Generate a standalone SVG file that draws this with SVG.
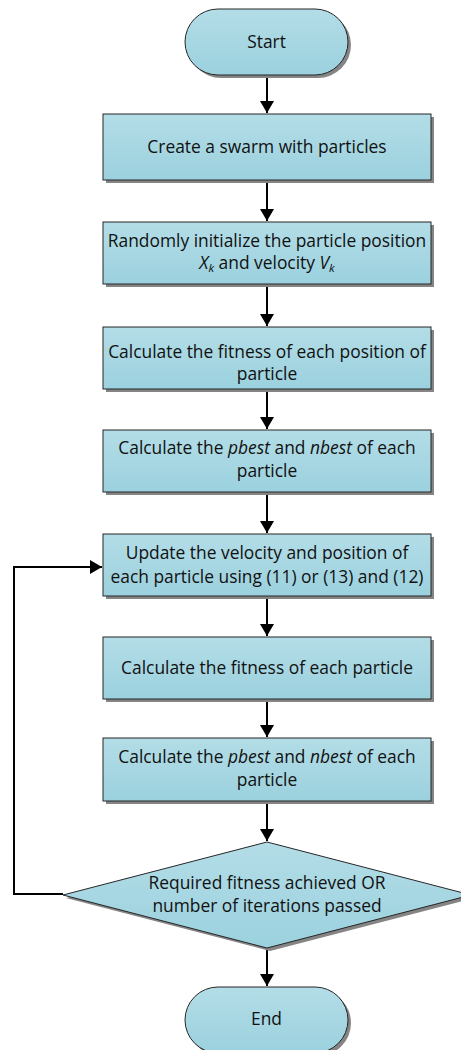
<svg xmlns="http://www.w3.org/2000/svg" width="461" height="1050" viewBox="0 0 461 1050">
  <style>
    .shape { fill: url(#fillGrad); stroke: #262626; stroke-width: 1; }
    .shadow { fill: #858585; }
    .label { font-family: "Open Sans", "Noto Sans", "Liberation Sans", sans-serif; font-size: 17.4px; fill: #111; text-anchor: middle; }
    .sub { font-size: 11.5px; font-style: italic; }
    .edge { fill: none; stroke: #000; stroke-width: 2; }
  </style>
  <defs>
    <linearGradient id="fillGrad" x1="0" y1="0" x2="0" y2="1">
      <stop offset="0" stop-color="#b3dde7"/>
      <stop offset="1" stop-color="#9bd1de"/>
    </linearGradient>
    <marker id="arrow" viewBox="0 0 12 14" refX="12" refY="7" markerWidth="12" markerHeight="14" markerUnits="userSpaceOnUse" orient="auto">
      <path d="M0,0 L12,7 L0,14 Z" fill="#000"/>
    </marker>
  </defs>

  <rect width="461" height="1050" fill="#fff"/>

  <!-- connectors -->
  <g id="connectors">
    <line class="edge" x1="267" y1="75" x2="267" y2="113" marker-end="url(#arrow)"/>
    <line class="edge" x1="267" y1="180" x2="267" y2="221" marker-end="url(#arrow)"/>
    <line class="edge" x1="267" y1="284" x2="267" y2="326" marker-end="url(#arrow)"/>
    <line class="edge" x1="267" y1="389" x2="267" y2="429" marker-end="url(#arrow)"/>
    <line class="edge" x1="267" y1="492" x2="267" y2="533" marker-end="url(#arrow)"/>
    <line class="edge" x1="267" y1="596" x2="267" y2="636" marker-end="url(#arrow)"/>
    <line class="edge" x1="267" y1="699" x2="267" y2="737" marker-end="url(#arrow)"/>
    <line class="edge" x1="267" y1="801" x2="267" y2="841" marker-end="url(#arrow)"/>
    <line class="edge" x1="267" y1="948" x2="267" y2="986" marker-end="url(#arrow)"/>
    <polyline class="edge" points="63,894 14,894 14,567 102,567" marker-end="url(#arrow)"/>
  </g>

  <!-- Start -->
  <g id="start">
    <rect class="shadow" x="188" y="12" width="163" height="66" rx="33"/>
    <rect class="shape" x="185" y="9" width="163" height="66" rx="33"/>
    <text class="label" x="266.5" y="48">Start</text>
  </g>

  <g id="create-swarm">
    <rect class="shadow" x="106" y="117" width="328" height="66"/>
    <rect class="shape" x="103" y="114" width="328" height="66"/>
    <text class="label" x="267" y="153">Create a swarm with particles</text>
  </g>

  <g id="init-position">
    <rect class="shadow" x="106" y="225" width="328" height="62"/>
    <rect class="shape" x="103" y="222" width="328" height="62"/>
    <text class="label" x="267" y="247">Randomly initialize the particle position</text>
    <text class="label" x="267" y="269"><tspan font-style="italic">X</tspan><tspan class="sub" dy="3">k</tspan><tspan dy="-3"> and velocity </tspan><tspan font-style="italic">V</tspan><tspan class="sub" dy="3">k</tspan></text>
  </g>

  <g id="fitness-position">
    <rect class="shadow" x="106" y="330" width="328" height="62"/>
    <rect class="shape" x="103" y="327" width="328" height="62"/>
    <text class="label" x="267" y="358">Calculate the fitness of each position of</text>
    <text class="label" x="267" y="380">particle</text>
  </g>

  <g id="best-initial">
    <rect class="shadow" x="106" y="433" width="328" height="62"/>
    <rect class="shape" x="103" y="430" width="328" height="62"/>
    <text class="label" x="267" y="454">Calculate the <tspan font-style="italic">pbest</tspan> and <tspan font-style="italic">nbest</tspan> of each</text>
    <text class="label" x="267" y="477">particle</text>
  </g>

  <g id="update">
    <rect class="shadow" x="106" y="537" width="328" height="62"/>
    <rect class="shape" x="103" y="534" width="328" height="62"/>
    <text class="label" x="267" y="559">Update the velocity and position of</text>
    <text class="label" x="267" y="583">each particle using (11) or (13) and (12)</text>
  </g>

  <g id="fitness">
    <rect class="shadow" x="106" y="640" width="328" height="62"/>
    <rect class="shape" x="103" y="637" width="328" height="62"/>
    <text class="label" x="267" y="674">Calculate the fitness of each particle</text>
  </g>

  <g id="best-update">
    <rect class="shadow" x="106" y="741" width="328" height="63"/>
    <rect class="shape" x="103" y="738" width="328" height="63"/>
    <text class="label" x="267" y="763">Calculate the <tspan font-style="italic">pbest</tspan> and <tspan font-style="italic">nbest</tspan> of each</text>
    <text class="label" x="267" y="786">particle</text>
  </g>

  <g id="decision">
    <polygon class="shadow" points="270,845 474,898 270,951 66,898"/>
    <polygon class="shape" points="267,842 471,895 267,948 63,895"/>
    <text class="label" x="267" y="889">Required fitness achieved OR</text>
    <text class="label" x="267" y="912">number of iterations passed</text>
  </g>

  <g id="end">
    <rect class="shadow" x="188" y="990" width="163" height="66" rx="33"/>
    <rect class="shape" x="185" y="987" width="163" height="66" rx="33"/>
    <text class="label" x="266.5" y="1025">End</text>
  </g>
</svg>
